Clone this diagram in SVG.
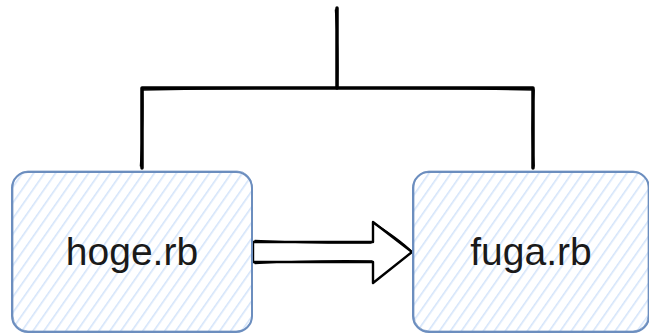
<svg xmlns="http://www.w3.org/2000/svg" width="649" height="334" viewBox="0 0 649 334">
  <defs>
    <pattern id="hatch" patternUnits="userSpaceOnUse" width="9" height="9" patternTransform="rotate(35)">
      <line x1="0" y1="0" x2="0" y2="9" stroke="#d4e4fa" stroke-width="3.2"/>
    </pattern>
  </defs>
  <style>
    .box { fill: url(#hatch); stroke: #6c8ebf; stroke-width: 2; }
    .box2 { fill: none; stroke: #6c8ebf; stroke-width: 1; opacity: 0.7; }
    .label { font-family: "Liberation Sans", Arial, sans-serif; font-size: 39px; fill: #1a1a1a; text-anchor: middle; }
    .wire { fill: none; stroke: #000; stroke-width: 3.5; stroke-linejoin: round; stroke-linecap: round; }
    .wire2 { fill: none; stroke: #000; stroke-width: 1.5; stroke-linejoin: round; stroke-linecap: round; }
    .block { fill: #fff; stroke: #000; stroke-width: 2.4; stroke-linejoin: round; }
  </style>
  <rect width="649" height="334" fill="#fff"/>
  <g id="connectors">
    <path class="wire" d="M337,8 L337,88"/>
    <path class="wire2" d="M335.5,10 Q338.5,50 337.5,86"/>
    <path class="wire" d="M142,168 L142,88 L533,88 L533,168"/>
    <path class="wire2" d="M140.5,166 Q143.5,120 142.5,90 Q330,86 534,90 Q530.5,130 534,166"/>
    <path class="block" d="M253,242 L373,242 L373,222 L412,252 L373,283 L373,262 L253,262 Z"/>
    <path class="wire2" d="M255,240.5 Q310,243.5 371,243 M255,263.5 Q310,260 372,261 M375,224 Q400,240 411,251"/>
  </g>
  <g id="hoge">
    <rect class="box" x="12" y="172" width="240" height="160" rx="16" ry="16"/>
    <rect class="box2" x="13" y="171" width="239" height="160" rx="15" ry="15"/>
    <text class="label" x="132" y="265">hoge.rb</text>
  </g>
  <g id="fuga">
    <rect class="box" x="413" y="172" width="236" height="160" rx="16" ry="16"/>
    <rect class="box2" x="414" y="171" width="234" height="160" rx="15" ry="15"/>
    <text class="label" x="531" y="265">fuga.rb</text>
  </g>
</svg>
